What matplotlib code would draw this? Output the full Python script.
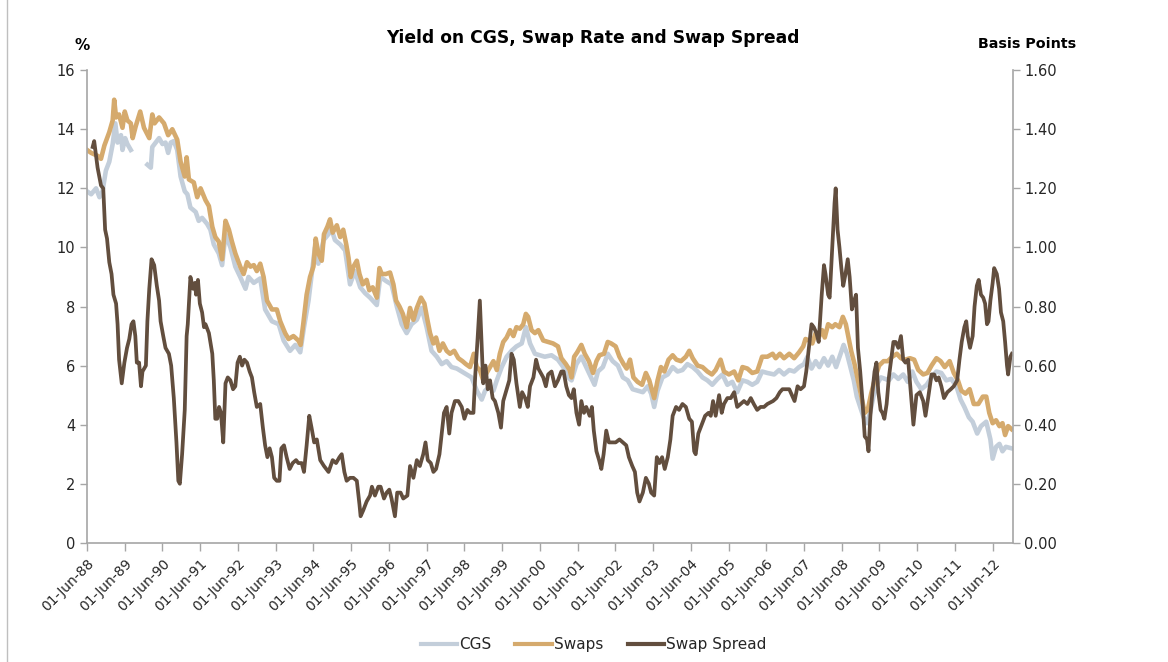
import numpy as np
import matplotlib.pyplot as plt
from matplotlib.lines import Line2D

# decimal years; 1 June of each year sits at YYYY.42 on this scale
cgs_year = [
    1988.42, 1988.53, 1988.66, 1988.75, 1988.83, 1988.92, 1989.01, 1989.10, 1989.17, 1989.23,
    1989.32, 1989.36, 1989.43, 1989.49, 1989.58, 1989.80, 1990.02, 1990.11, 1990.15, 1990.24,
    1990.33, 1990.42, 1990.50, 1990.57, 1990.64, 1990.72, 1990.81, 1990.90, 1991.01, 1991.08,
    1991.16, 1991.30, 1991.38, 1991.47, 1991.60, 1991.69, 1991.78, 1991.91, 1992.00, 1992.09,
    1992.22, 1992.35, 1992.48, 1992.62, 1992.70, 1992.84, 1993.01, 1993.14, 1993.32, 1993.50,
    1993.63, 1993.80, 1993.94, 1994.07, 1994.17, 1994.29,
    1994.46, 1994.55, 1994.69, 1994.82, 1994.88, 1994.99, 1995.13, 1995.26, 1995.39, 1995.52,
    1995.66, 1995.79, 1995.92, 1996.10, 1996.19, 1996.36, 1996.49, 1996.63, 1996.76, 1996.89,
    1997.02, 1997.16, 1997.29, 1997.42, 1997.55, 1997.69, 1997.82, 1997.95, 1998.08, 1998.22,
    1998.35, 1998.48, 1998.61, 1998.75, 1998.88, 1998.97, 1999.10, 1999.19, 1999.28, 1999.41,
    1999.54, 1999.67, 1999.80, 1999.94, 2000.05, 2000.16, 2000.29, 2000.42,
    2000.55, 2000.73, 2000.90, 2001.04, 2001.17, 2001.26, 2001.39, 2001.52, 2001.65, 2001.78,
    2001.87, 2001.96, 2002.09, 2002.22, 2002.35, 2002.49, 2002.62, 2002.75, 2002.88, 2003.01,
    2003.15, 2003.28, 2003.37, 2003.45, 2003.54, 2003.67, 2003.81, 2003.94, 2004.07, 2004.20,
    2004.33, 2004.47, 2004.60, 2004.73, 2004.86, 2004.99, 2005.13, 2005.26, 2005.39, 2005.52,
    2005.65, 2005.79, 2005.92, 2006.05, 2006.18, 2006.31, 2006.45,
    2006.63, 2006.76, 2006.89, 2007.03, 2007.16, 2007.29, 2007.42, 2007.51, 2007.62, 2007.73,
    2007.83, 2007.95, 2008.06, 2008.17, 2008.27, 2008.39, 2008.47, 2008.56, 2008.65, 2008.74,
    2008.82, 2008.91, 2009.00, 2009.09, 2009.17, 2009.26, 2009.35, 2009.46, 2009.57, 2009.67,
    2009.79, 2009.92, 2010.05, 2010.17, 2010.29, 2010.40, 2010.53, 2010.67, 2010.80, 2010.93,
    2011.06, 2011.19, 2011.32, 2011.46, 2011.57, 2011.67, 2011.79, 2011.89, 2012.01, 2012.11,
    2012.25, 2012.36, 2012.42, 2012.51, 2012.60, 2012.68, 2012.77, 2012.92,
]
cgs_pct = [
    11.9, 11.8, 12.0, 11.7, 11.9, 12.6, 12.9, 13.5, 14.2, 13.55,
    13.8, 13.3, 13.7, 13.5, 13.3, np.nan, 12.8, 12.7, 13.4, 13.55,
    13.7, 13.5, 13.55, 13.2, 13.55, 13.6, 13.3, 12.4, 11.9, 11.8,
    11.35, 11.2, 10.9, 11.0, 10.8, 10.6, 10.1, 9.8, 9.4, 10.45,
    10.0, 9.35, 9.0, 8.6, 9.0, 8.8, 8.95, 7.9, 7.5, 7.4,
    6.85, 6.5, 6.7, 6.45, 7.3, 8.2,
    10.0, 9.45, 10.25, 10.45, 10.7, 10.25, 10.1, 9.9, 8.75, 9.2,
    8.65, 8.45, 8.3, 8.05, 9.0, 8.85, 8.75, 8.0, 7.4, 7.1,
    7.4, 7.55, 7.95, 7.3, 6.5, 6.3, 6.05, 6.15, 5.95, 5.9,
    5.8, 5.7, 5.6, 5.15, 4.85, 5.15, 5.3, 5.15, 5.5, 5.95,
    6.3, 6.5, 6.65, 6.75, 7.3, 6.75, 6.4, 6.35,
    6.3, 6.35, 6.2, 5.95, 5.6, 5.5, 6.05, 6.3, 5.95, 5.6,
    5.35, 5.8, 5.95, 6.4, 6.15, 6.0, 5.6, 5.5, 5.2, 5.15,
    5.1, 5.3, 5.05, 4.6, 5.15, 5.6, 5.7, 5.95, 5.8, 5.85,
    6.05, 5.95, 5.8, 5.6, 5.5, 5.35, 5.55, 5.7, 5.35, 5.45,
    5.1, 5.5, 5.45, 5.35, 5.45, 5.8, 5.75,
    5.7, 5.85, 5.7, 5.85, 5.8, 5.95, 6.05, 6.3, 5.9, 6.15,
    5.95, 6.25, 6.0, 6.3, 5.95, 6.4, 6.7, 6.4, 5.95, 5.5,
    4.95, 4.6, 4.25, 4.05, 4.4, 4.95, 5.35, 5.6, 5.55, 5.5,
    5.7, 5.55, 5.7, 5.45, 5.8, 5.45, 5.2, 5.35, 5.6, 5.8,
    5.75, 5.5, 5.55, 5.3, 4.85, 4.6, 4.25, 4.1, 3.7, 3.95,
    4.1, 3.5, 2.85, 3.25, 3.35, 3.1, 3.25, 3.2,
]

swap_year = [
    1988.42, 1988.53, 1988.70, 1988.79, 1988.88, 1989.01, 1989.10, 1989.14, 1989.19, 1989.27,
    1989.36, 1989.42, 1989.49, 1989.58, 1989.63, 1989.71, 1989.83, 1989.93, 1990.07, 1990.15,
    1990.21, 1990.33, 1990.46, 1990.57, 1990.68, 1990.81, 1990.90, 1991.01, 1991.06, 1991.12,
    1991.25, 1991.34, 1991.43, 1991.56, 1991.65, 1991.74, 1991.82, 1991.91, 1992.00, 1992.09,
    1992.18, 1992.26, 1992.35, 1992.48, 1992.57, 1992.66, 1992.75, 1992.84, 1992.92, 1993.01,
    1993.10, 1993.19, 1993.32, 1993.45, 1993.54, 1993.67, 1993.76, 1993.89, 1994.02, 1994.08,
    1994.15, 1994.24, 1994.33,
    1994.42, 1994.48, 1994.55, 1994.64, 1994.70, 1994.79, 1994.86, 1994.93, 1995.04, 1995.13,
    1995.21, 1995.29, 1995.35, 1995.41, 1995.48, 1995.57, 1995.64, 1995.73, 1995.83, 1995.90,
    1995.99, 1996.10, 1996.17, 1996.23, 1996.34, 1996.45, 1996.54, 1996.61, 1996.70, 1996.79,
    1996.89, 1996.98, 1997.07, 1997.16, 1997.27, 1997.36, 1997.44, 1997.51, 1997.60, 1997.67,
    1997.76, 1997.85, 1997.95, 1998.04, 1998.15, 1998.26, 1998.37, 1998.46, 1998.57, 1998.67,
    1998.75, 1998.83, 1998.92, 1999.01, 1999.10, 1999.19, 1999.28, 1999.36, 1999.45, 1999.54,
    1999.63, 1999.72, 1999.80, 1999.89, 1999.98, 2000.05, 2000.11, 2000.20, 2000.29, 2000.38,
    2000.51, 2000.64, 2000.77, 2000.90, 2000.99, 2001.11, 2001.21, 2001.26, 2001.33, 2001.41,
    2001.52, 2001.61, 2001.72, 2001.83, 2001.92, 2002.00, 2002.12, 2002.22, 2002.31, 2002.43,
    2002.53, 2002.64, 2002.72, 2002.81, 2002.90, 2003.01, 2003.13, 2003.23, 2003.32, 2003.45,
    2003.54, 2003.63, 2003.72, 2003.83, 2003.94, 2004.04, 2004.16, 2004.29, 2004.38, 2004.47,
    2004.60, 2004.73, 2004.86, 2004.98, 2005.08, 2005.21, 2005.30, 2005.43, 2005.57, 2005.68,
    2005.79, 2005.92, 2006.05, 2006.18, 2006.31, 2006.45,
    2006.59, 2006.67, 2006.78, 2006.89, 2007.03, 2007.16, 2007.29, 2007.40, 2007.46, 2007.55,
    2007.64, 2007.73, 2007.81, 2007.90, 2007.97, 2008.06, 2008.17, 2008.25, 2008.36, 2008.45,
    2008.53, 2008.60, 2008.67, 2008.76, 2008.85, 2008.94, 2009.03, 2009.11, 2009.20, 2009.31,
    2009.41, 2009.53, 2009.64, 2009.76, 2009.88, 2009.99, 2010.10, 2010.23, 2010.34, 2010.45,
    2010.58, 2010.69, 2010.80, 2010.93, 2011.04, 2011.15, 2011.28, 2011.39, 2011.50, 2011.59,
    2011.70, 2011.81, 2011.92, 2012.04, 2012.16, 2012.25, 2012.33, 2012.42, 2012.51, 2012.60,
    2012.68, 2012.75, 2012.83, 2012.92,
]
swap_pct = [
    13.3, 13.2, 13.1, 13.0, 13.45, 13.9, 14.3, 15.0, 14.4, 14.5,
    14.05, 14.6, 14.3, 14.2, 13.7, 14.1, 14.6, 14.05, 13.7, 14.5,
    14.2, 14.4, 14.2, 13.8, 14.0, 13.65, 12.9, 12.4, 13.05, 12.3,
    12.2, 11.7, 12.0, 11.6, 11.4, 10.7, 10.35, 10.2, 9.6, 10.9,
    10.6, 10.2, 9.8, 9.35, 9.1, 9.5, 9.35, 9.4, 9.2, 9.45,
    9.0, 8.2, 7.9, 7.9, 7.5, 7.1, 6.9, 7.0, 6.85, 6.7,
    7.4, 8.4, 9.0,
    9.35, 10.3, 9.8, 9.55, 10.45, 10.7, 10.95, 10.5, 10.75, 10.35,
    10.6, 10.1, 9.65, 9.0, 9.35, 9.55, 9.1, 8.75, 8.9, 8.55,
    8.65, 8.3, 9.3, 9.1, 9.1, 9.15, 8.75, 8.2, 8.0, 7.75,
    7.3, 7.95, 7.55, 7.95, 8.3, 8.1, 7.55, 7.1, 6.75, 6.95,
    6.5, 6.75, 6.5, 6.4, 6.5, 6.25, 6.15, 6.05, 5.95, 6.4,
    5.95, 5.85, 5.5, 5.75, 5.95, 6.15, 5.85, 6.4, 6.8, 6.95,
    7.2, 7.0, 7.3, 7.25, 7.4, 7.75, 7.65, 7.2, 7.1, 7.2,
    6.85, 6.8, 6.75, 6.65, 6.25, 6.05, 5.85, 5.6, 6.3, 6.45,
    6.7, 6.4, 6.15, 5.75, 6.15, 6.35, 6.4, 6.8, 6.75, 6.65,
    6.3, 6.05, 5.9, 6.2, 5.6, 5.45, 5.35, 5.75, 5.5, 4.9,
    5.5, 5.95, 5.8, 6.2, 6.35, 6.2, 6.15, 6.3, 6.5, 6.25,
    6.0, 5.95, 5.8, 5.7, 5.85, 6.2, 5.8, 5.7, 5.8, 5.5,
    5.95, 5.9, 5.75, 5.8, 6.3, 6.3,
    6.4, 6.25, 6.4, 6.25, 6.4, 6.25, 6.45, 6.65, 6.9, 6.85,
    6.75, 7.1, 6.95, 7.2, 6.95, 7.4, 7.3, 7.4, 7.3, 7.65,
    7.4, 6.95, 6.5, 6.05, 5.5, 4.95, 4.4, 4.5, 5.05, 5.6,
    6.0, 6.15, 6.15, 6.3, 6.4, 6.25, 6.2, 6.25, 6.2, 5.85,
    5.7, 5.75, 6.0, 6.25, 6.15, 5.95, 6.15, 5.75, 5.5, 5.15,
    5.05, 5.2, 4.7, 4.7, 4.95, 4.95, 4.4, 4.05, 4.15, 3.95,
    4.05, 3.65, 3.95, 3.85,
]

spread_year = [
    1988.57, 1988.61, 1988.70, 1988.79, 1988.85, 1988.90, 1988.95, 1989.01, 1989.07, 1989.12,
    1989.19, 1989.23, 1989.27, 1989.34, 1989.41, 1989.48, 1989.54, 1989.60, 1989.65, 1989.70,
    1989.74, 1989.80, 1989.85, 1989.89, 1989.98, 1990.02, 1990.07, 1990.13, 1990.20, 1990.27,
    1990.33, 1990.37, 1990.44, 1990.50, 1990.59, 1990.65, 1990.72, 1990.79, 1990.84, 1990.88,
    1990.94, 1991.01, 1991.06, 1991.09, 1991.16, 1991.23, 1991.28, 1991.31, 1991.36, 1991.41,
    1991.47, 1991.52, 1991.56, 1991.65, 1991.74, 1991.78, 1991.82, 1991.87, 1991.92, 1991.97,
    1992.03, 1992.09, 1992.15, 1992.22, 1992.29, 1992.35, 1992.41, 1992.47, 1992.53, 1992.59,
    1992.66, 1992.73, 1992.79, 1992.85, 1992.92, 1993.01, 1993.08, 1993.14, 1993.20, 1993.26,
    1993.32, 1993.38, 1993.45, 1993.52, 1993.57, 1993.64, 1993.71, 1993.79, 1993.87, 1993.96,
    1994.02, 1994.11, 1994.17, 1994.24, 1994.31, 1994.37,
    1994.44, 1994.51, 1994.60, 1994.70, 1994.82, 1994.93, 1995.02, 1995.11, 1995.17, 1995.24,
    1995.30, 1995.39, 1995.48, 1995.57, 1995.64, 1995.67, 1995.74, 1995.83, 1995.92, 1995.97,
    1996.05, 1996.14, 1996.20, 1996.29, 1996.36, 1996.43, 1996.49, 1996.58, 1996.64, 1996.73,
    1996.80, 1996.91, 1996.98, 1997.07, 1997.16, 1997.24, 1997.33, 1997.39, 1997.45, 1997.53,
    1997.60, 1997.67, 1997.76, 1997.82, 1997.88, 1997.95, 1998.02, 1998.08, 1998.17, 1998.26,
    1998.35, 1998.42, 1998.50, 1998.57, 1998.66, 1998.71, 1998.77, 1998.83, 1998.88, 1998.92,
    1998.98, 1999.04, 1999.10, 1999.17, 1999.23, 1999.32, 1999.39, 1999.45, 1999.54, 1999.61,
    1999.67, 1999.73, 1999.80, 1999.89, 1999.95, 2000.03, 2000.10, 2000.16, 2000.25, 2000.32,
    2000.38,
    2000.51, 2000.58, 2000.64, 2000.73, 2000.82, 2000.90, 2000.99, 2001.05, 2001.12, 2001.19,
    2001.26, 2001.32, 2001.39, 2001.46, 2001.52, 2001.59, 2001.65, 2001.74, 2001.80, 2001.85,
    2001.92, 2001.99, 2002.05, 2002.11, 2002.18, 2002.25, 2002.34, 2002.43, 2002.53, 2002.62,
    2002.71, 2002.78, 2002.87, 2002.94, 2003.00, 2003.06, 2003.15, 2003.23, 2003.31, 2003.37,
    2003.45, 2003.52, 2003.59, 2003.66, 2003.73, 2003.81, 2003.88, 2003.94, 2004.03, 2004.11,
    2004.20, 2004.29, 2004.38, 2004.45, 2004.51, 2004.55, 2004.62, 2004.71, 2004.80, 2004.89,
    2004.95, 2005.01, 2005.08, 2005.17, 2005.24, 2005.30, 2005.39, 2005.48, 2005.57, 2005.65,
    2005.74, 2005.83, 2005.92, 2006.01, 2006.09, 2006.18, 2006.27, 2006.36, 2006.45,
    2006.60, 2006.69, 2006.78, 2006.85, 2006.94, 2007.03, 2007.10, 2007.17, 2007.25, 2007.33,
    2007.42, 2007.48, 2007.55, 2007.62, 2007.68, 2007.75, 2007.81, 2007.89, 2007.95, 2007.99,
    2008.06, 2008.10, 2008.17, 2008.23, 2008.26, 2008.31, 2008.36, 2008.41, 2008.46, 2008.52,
    2008.58, 2008.63, 2008.69, 2008.75, 2008.80, 2008.85, 2008.91, 2008.97, 2009.03, 2009.09,
    2009.13, 2009.18, 2009.24, 2009.29, 2009.34, 2009.39, 2009.45, 2009.50, 2009.55, 2009.61,
    2009.67, 2009.73, 2009.79, 2009.85, 2009.92, 2009.99, 2010.05, 2010.11, 2010.18, 2010.25,
    2010.32, 2010.40, 2010.49, 2010.58, 2010.64, 2010.71, 2010.80, 2010.87, 2010.93, 2010.99,
    2011.06, 2011.13, 2011.22, 2011.31, 2011.39, 2011.48, 2011.54, 2011.60, 2011.67, 2011.72,
    2011.76, 2011.82, 2011.89, 2011.94, 2012.00, 2012.05, 2012.11, 2012.17, 2012.22, 2012.27,
    2012.31, 2012.36, 2012.42, 2012.46, 2012.53, 2012.59, 2012.64, 2012.70, 2012.75, 2012.80,
    2012.83, 2012.89, 2012.93,
]
spread_pts = [
    1.34, 1.36, 1.27, 1.21, 1.20, 1.06, 1.03, 0.95, 0.91, 0.84,
    0.81, 0.74, 0.62, 0.54, 0.61, 0.66, 0.69, 0.74, 0.75, 0.70,
    0.61, 0.61, 0.53, 0.58, 0.60, 0.75, 0.86, 0.96, 0.94, 0.87,
    0.82, 0.75, 0.70, 0.66, 0.64, 0.60, 0.49, 0.34, 0.21, 0.20,
    0.30, 0.45, 0.70, 0.74, 0.90, 0.86, 0.88, 0.84, 0.89, 0.81,
    0.78, 0.73, 0.74, 0.71, 0.64, 0.55, 0.42, 0.42, 0.46, 0.44,
    0.34, 0.54, 0.56, 0.55, 0.52, 0.53, 0.61, 0.63, 0.60, 0.62,
    0.61, 0.58, 0.56, 0.51, 0.46, 0.47, 0.39, 0.33, 0.29, 0.32,
    0.29, 0.22, 0.21, 0.21, 0.32, 0.33, 0.29, 0.25, 0.27, 0.28,
    0.27, 0.27, 0.24, 0.33, 0.43, 0.39,
    0.34, 0.35, 0.28, 0.26, 0.24, 0.28, 0.27, 0.29, 0.30, 0.24,
    0.21, 0.22, 0.22, 0.21, 0.13, 0.09, 0.11, 0.14, 0.16, 0.19,
    0.16, 0.19, 0.19, 0.15, 0.17, 0.18, 0.15, 0.09, 0.17, 0.17,
    0.15, 0.16, 0.26, 0.22, 0.28, 0.26, 0.30, 0.34, 0.28, 0.27,
    0.24, 0.25, 0.30, 0.37, 0.44, 0.46, 0.37, 0.44, 0.48, 0.48,
    0.46, 0.42, 0.45, 0.44, 0.44, 0.57, 0.69, 0.82, 0.66, 0.54,
    0.60, 0.52, 0.55, 0.49, 0.48, 0.44, 0.39, 0.48, 0.52, 0.55,
    0.64, 0.62, 0.54, 0.46, 0.51, 0.49, 0.46, 0.53, 0.56, 0.62,
    0.59,
    0.56, 0.53, 0.57, 0.58, 0.53, 0.55, 0.58, 0.58, 0.53, 0.50,
    0.49, 0.52, 0.44, 0.40, 0.48, 0.44, 0.46, 0.43, 0.46, 0.38,
    0.31, 0.28, 0.25, 0.30, 0.38, 0.34, 0.34, 0.34, 0.35, 0.34,
    0.33, 0.29, 0.26, 0.24, 0.17, 0.14, 0.17, 0.22, 0.20, 0.17,
    0.16, 0.29, 0.27, 0.29, 0.25, 0.29, 0.35, 0.43, 0.46, 0.45,
    0.47, 0.46, 0.42, 0.41, 0.31, 0.30, 0.37, 0.40, 0.43, 0.44,
    0.43, 0.48, 0.43, 0.50, 0.44, 0.47, 0.49, 0.49, 0.51, 0.46,
    0.47, 0.48, 0.47, 0.49, 0.47, 0.45, 0.46, 0.46, 0.47,
    0.48, 0.49, 0.51, 0.52, 0.52, 0.52, 0.50, 0.48, 0.53, 0.52,
    0.53, 0.58, 0.66, 0.74, 0.73, 0.71, 0.68, 0.84, 0.94, 0.91,
    0.84, 0.83, 1.00, 1.15, 1.20, 1.06, 1.00, 0.93, 0.87, 0.91,
    0.96, 0.90, 0.79, 0.82, 0.84, 0.66, 0.58, 0.48, 0.36, 0.35,
    0.31, 0.43, 0.52, 0.58, 0.61, 0.51, 0.45, 0.44, 0.42, 0.47,
    0.56, 0.62, 0.68, 0.68, 0.66, 0.70, 0.62, 0.61, 0.62, 0.51,
    0.40, 0.50, 0.51, 0.48, 0.43, 0.49, 0.57, 0.57, 0.55, 0.56,
    0.53, 0.49, 0.51, 0.52, 0.53, 0.55, 0.62, 0.68, 0.73, 0.75,
    0.70, 0.66, 0.70, 0.80, 0.87, 0.89, 0.84, 0.83, 0.81, 0.74,
    0.75, 0.82, 0.88, 0.93, 0.91, 0.86, 0.78, 0.75, 0.68, 0.60,
    0.57, 0.63, 0.64,
]

tick_years = list(range(1988, 2013))
tick_labels = ["01-Jun-%02d" % (y % 100) for y in tick_years]

CGS_COL = "#C3CEDA"
SWAP_COL = "#D5AA6D"
SPREAD_COL = "#624E3E"
AXIS_COL = "#A6A6A6"
TEXT_COL = "#262626"

plt.rcParams["font.family"] = "DejaVu Sans"

fig = plt.figure(figsize=(11.68, 6.62), dpi=100)
ax = fig.add_axes([0.0745, 0.18, 0.7925, 0.714])
ax2 = ax.twinx()

l_cgs, = ax.plot(cgs_year, cgs_pct, color=CGS_COL, lw=3.3, solid_joinstyle="round")
l_swap, = ax.plot(swap_year, swap_pct, color=SWAP_COL, lw=3.3, solid_joinstyle="round")
l_spread, = ax2.plot(spread_year, spread_pts, color=SPREAD_COL, lw=2.7, solid_joinstyle="round")

ax.set_xlim(1988.42, 2012.95)
ax.set_ylim(0, 16)
ax2.set_ylim(0, 1.6)
ax.set_yticks(np.arange(0, 17, 2))
ax2.set_yticks(np.arange(0, 1.61, 0.2))
ax2.set_yticklabels(["%.2f" % v for v in np.arange(0, 1.61, 0.2)])
ax.set_xticks([y + 0.42 for y in tick_years])
ax.set_xticklabels(tick_labels, rotation=45, ha="right", rotation_mode="anchor")

for a in (ax, ax2):
    a.spines["top"].set_visible(False)
    for s in a.spines.values():
        s.set_color(AXIS_COL)
        s.set_linewidth(1.2)
    a.tick_params(colors=AXIS_COL, labelcolor=TEXT_COL, labelsize=10.5, length=5, width=1)
ax.spines["right"].set_visible(False)
ax2.spines["left"].set_visible(False)
ax2.spines["bottom"].set_visible(False)
ax.tick_params(axis="x", length=6, pad=4, labelsize=10)

fig.text(0.508, 0.943, "Yield on CGS, Swap Rate and Swap Spread", ha="center", va="center",
         fontsize=12.3, fontweight="bold", color="black")
fig.text(0.070, 0.931, "%", ha="center", va="center", fontsize=11, fontweight="bold")
fig.text(0.879, 0.933, "Basis Points", ha="center", va="center", fontsize=10.3, fontweight="bold")

handles = [Line2D([], [], color=c, lw=3) for c in (CGS_COL, SWAP_COL, SPREAD_COL)]
fig.legend(handles, ["CGS", "Swaps", "Swap Spread"], loc="center", bbox_to_anchor=(0.508, 0.026),
           ncol=3, frameon=False, fontsize=11, handlelength=2.4, handletextpad=0.1,
           columnspacing=1.6, labelcolor=TEXT_COL)

# chart-area border on the left edge
fig.add_artist(Line2D([0.006, 0.006], [0, 1], transform=fig.transFigure, color="#BFBFBF", lw=1))

fig.savefig("out.png", dpi=100)
